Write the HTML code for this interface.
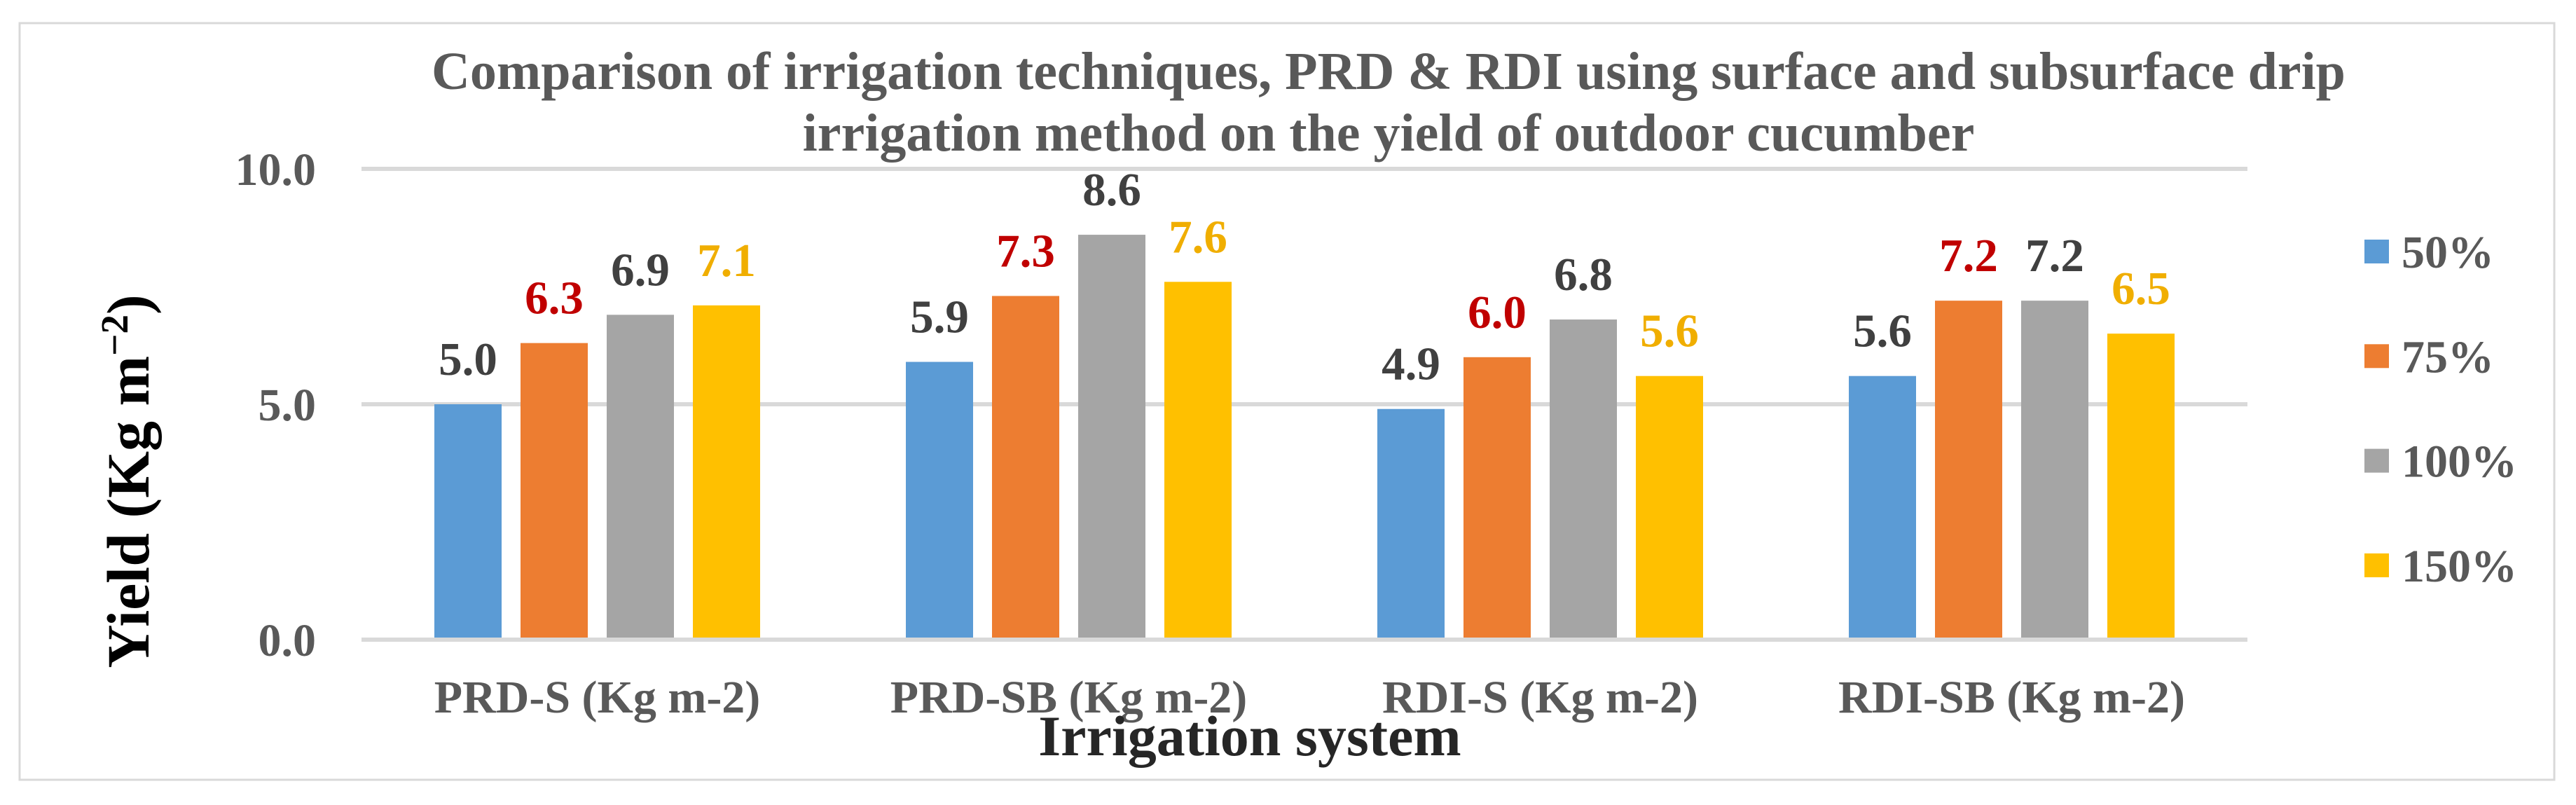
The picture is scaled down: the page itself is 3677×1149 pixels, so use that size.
<!DOCTYPE html>
<html><head><meta charset="utf-8"><style>
html,body{margin:0;padding:0;background:#fff;}
svg{display:block;font-family:"Liberation Serif","Times New Roman",serif;font-weight:bold;}
</style></head><body>
<svg id="chart" xmlns="http://www.w3.org/2000/svg" width="3677" height="1149" viewBox="0 0 3677 1149">
<rect x="28" y="33" width="3618" height="1080" fill="#fff" stroke="#d9d9d9" stroke-width="3"/>
<text x="1982" y="127" text-anchor="middle" font-size="76" fill="#595959">Comparison of irrigation techniques, PRD &amp; RDI using surface and subsurface drip</text>
<text x="1982" y="215" text-anchor="middle" font-size="76" fill="#595959">irrigation method on the yield of outdoor cucumber</text>
<g id="grid"></g><g id="bars"></g><g id="labels"></g>
<text transform="translate(212,687) rotate(-90)" text-anchor="middle" font-size="86" fill="#000">Yield (Kg m<tspan font-size="55" dy="-30">−2</tspan><tspan dy="30">)</tspan></text>
<text x="1784" y="1078" text-anchor="middle" font-size="82" fill="#262626">Irrigation system</text>
<g id="legend"></g>
</svg>
<script>
const categories = ["PRD-S (Kg m-2)", "PRD-SB (Kg m-2)", "RDI-S (Kg m-2)", "RDI-SB (Kg m-2)"];
const seriesNames = ["50%", "75%", "100%", "150%"];
const s50 = [5.0, 5.9, 4.9, 5.6];
const s75 = [6.3, 7.3, 6.0, 7.2];
const s100 = [6.9, 8.6, 6.8, 7.2];
const s150 = [7.1, 7.6, 5.6, 6.5];
const yTicks = [0, 5, 10];
const yTickLabels = ["0.0", "5.0", "10.0"];

const series = [s50, s75, s100, s150];
const colors = ["#5B9BD5", "#ED7D31", "#A5A5A5", "#FFC000"];
const labelColors = ["#404040", "#C00000", "#404040", "#F0AE00"];
const NS = "http://www.w3.org/2000/svg";
const x0 = 516, x1 = 3208, yBase = 913, yTop = 241, yMax = 10;
function yScale(v){ return yBase - (v / yMax) * (yBase - yTop); }
const catW = (x1 - x0) / categories.length;
function catCenter(i){ return x0 + catW * (i + 0.5); }
const barW = 96, step = 123;
function mk(tag, attrs, parent){ const e = document.createElementNS(NS, tag); for (const k in attrs) e.setAttribute(k, attrs[k]); parent.appendChild(e); return e; }

const grid = document.getElementById('grid');
yTicks.forEach((t, i) => {
  const y = yScale(t);
  const l = mk('line', {x1: x0, x2: x1, y1: y, y2: y, stroke: '#d9d9d9', 'stroke-width': 6}, grid);
  
  
  const tx = mk('text', {x: 451, y: y + 23, 'text-anchor': 'end', 'font-size': 66, fill: '#595959'}, grid);
  tx.textContent = yTickLabels[i];
  
  
});

const bars = document.getElementById('bars');
const labels = document.getElementById('labels');
categories.forEach((c, ci) => {
  series.forEach((s, si) => {
    const cx = catCenter(ci) + (si - 1.5) * step;
    const v = s[ci];
    const r = mk('rect', {x: cx - barW / 2, y: yScale(v), width: barW, height: yBase - 3 - yScale(v), fill: colors[si]}, bars);
    
    
    const t = mk('text', {x: cx, y: yScale(v) - 42, 'text-anchor': 'middle', 'font-size': 67, fill: labelColors[si]}, labels);
    t.textContent = v.toFixed(1);
    
    
  });
  const ct = mk('text', {x: catCenter(ci), y: 1017, 'text-anchor': 'middle', 'font-size': 66, fill: '#595959'}, labels);
  ct.textContent = c;
  
  
});

const legend = document.getElementById('legend');
seriesNames.forEach((n, i) => {
  const cy = 359 + i * 149.3;
  const g = mk('g', {}, legend);
  
  
  mk('rect', {x: 3375, y: cy - 17, width: 35, height: 34, fill: colors[i]}, g);
  const t = mk('text', {x: 3428, y: cy + 23, 'font-size': 66, fill: '#595959'}, g);
  t.textContent = n;
});
</script>
</body></html>
